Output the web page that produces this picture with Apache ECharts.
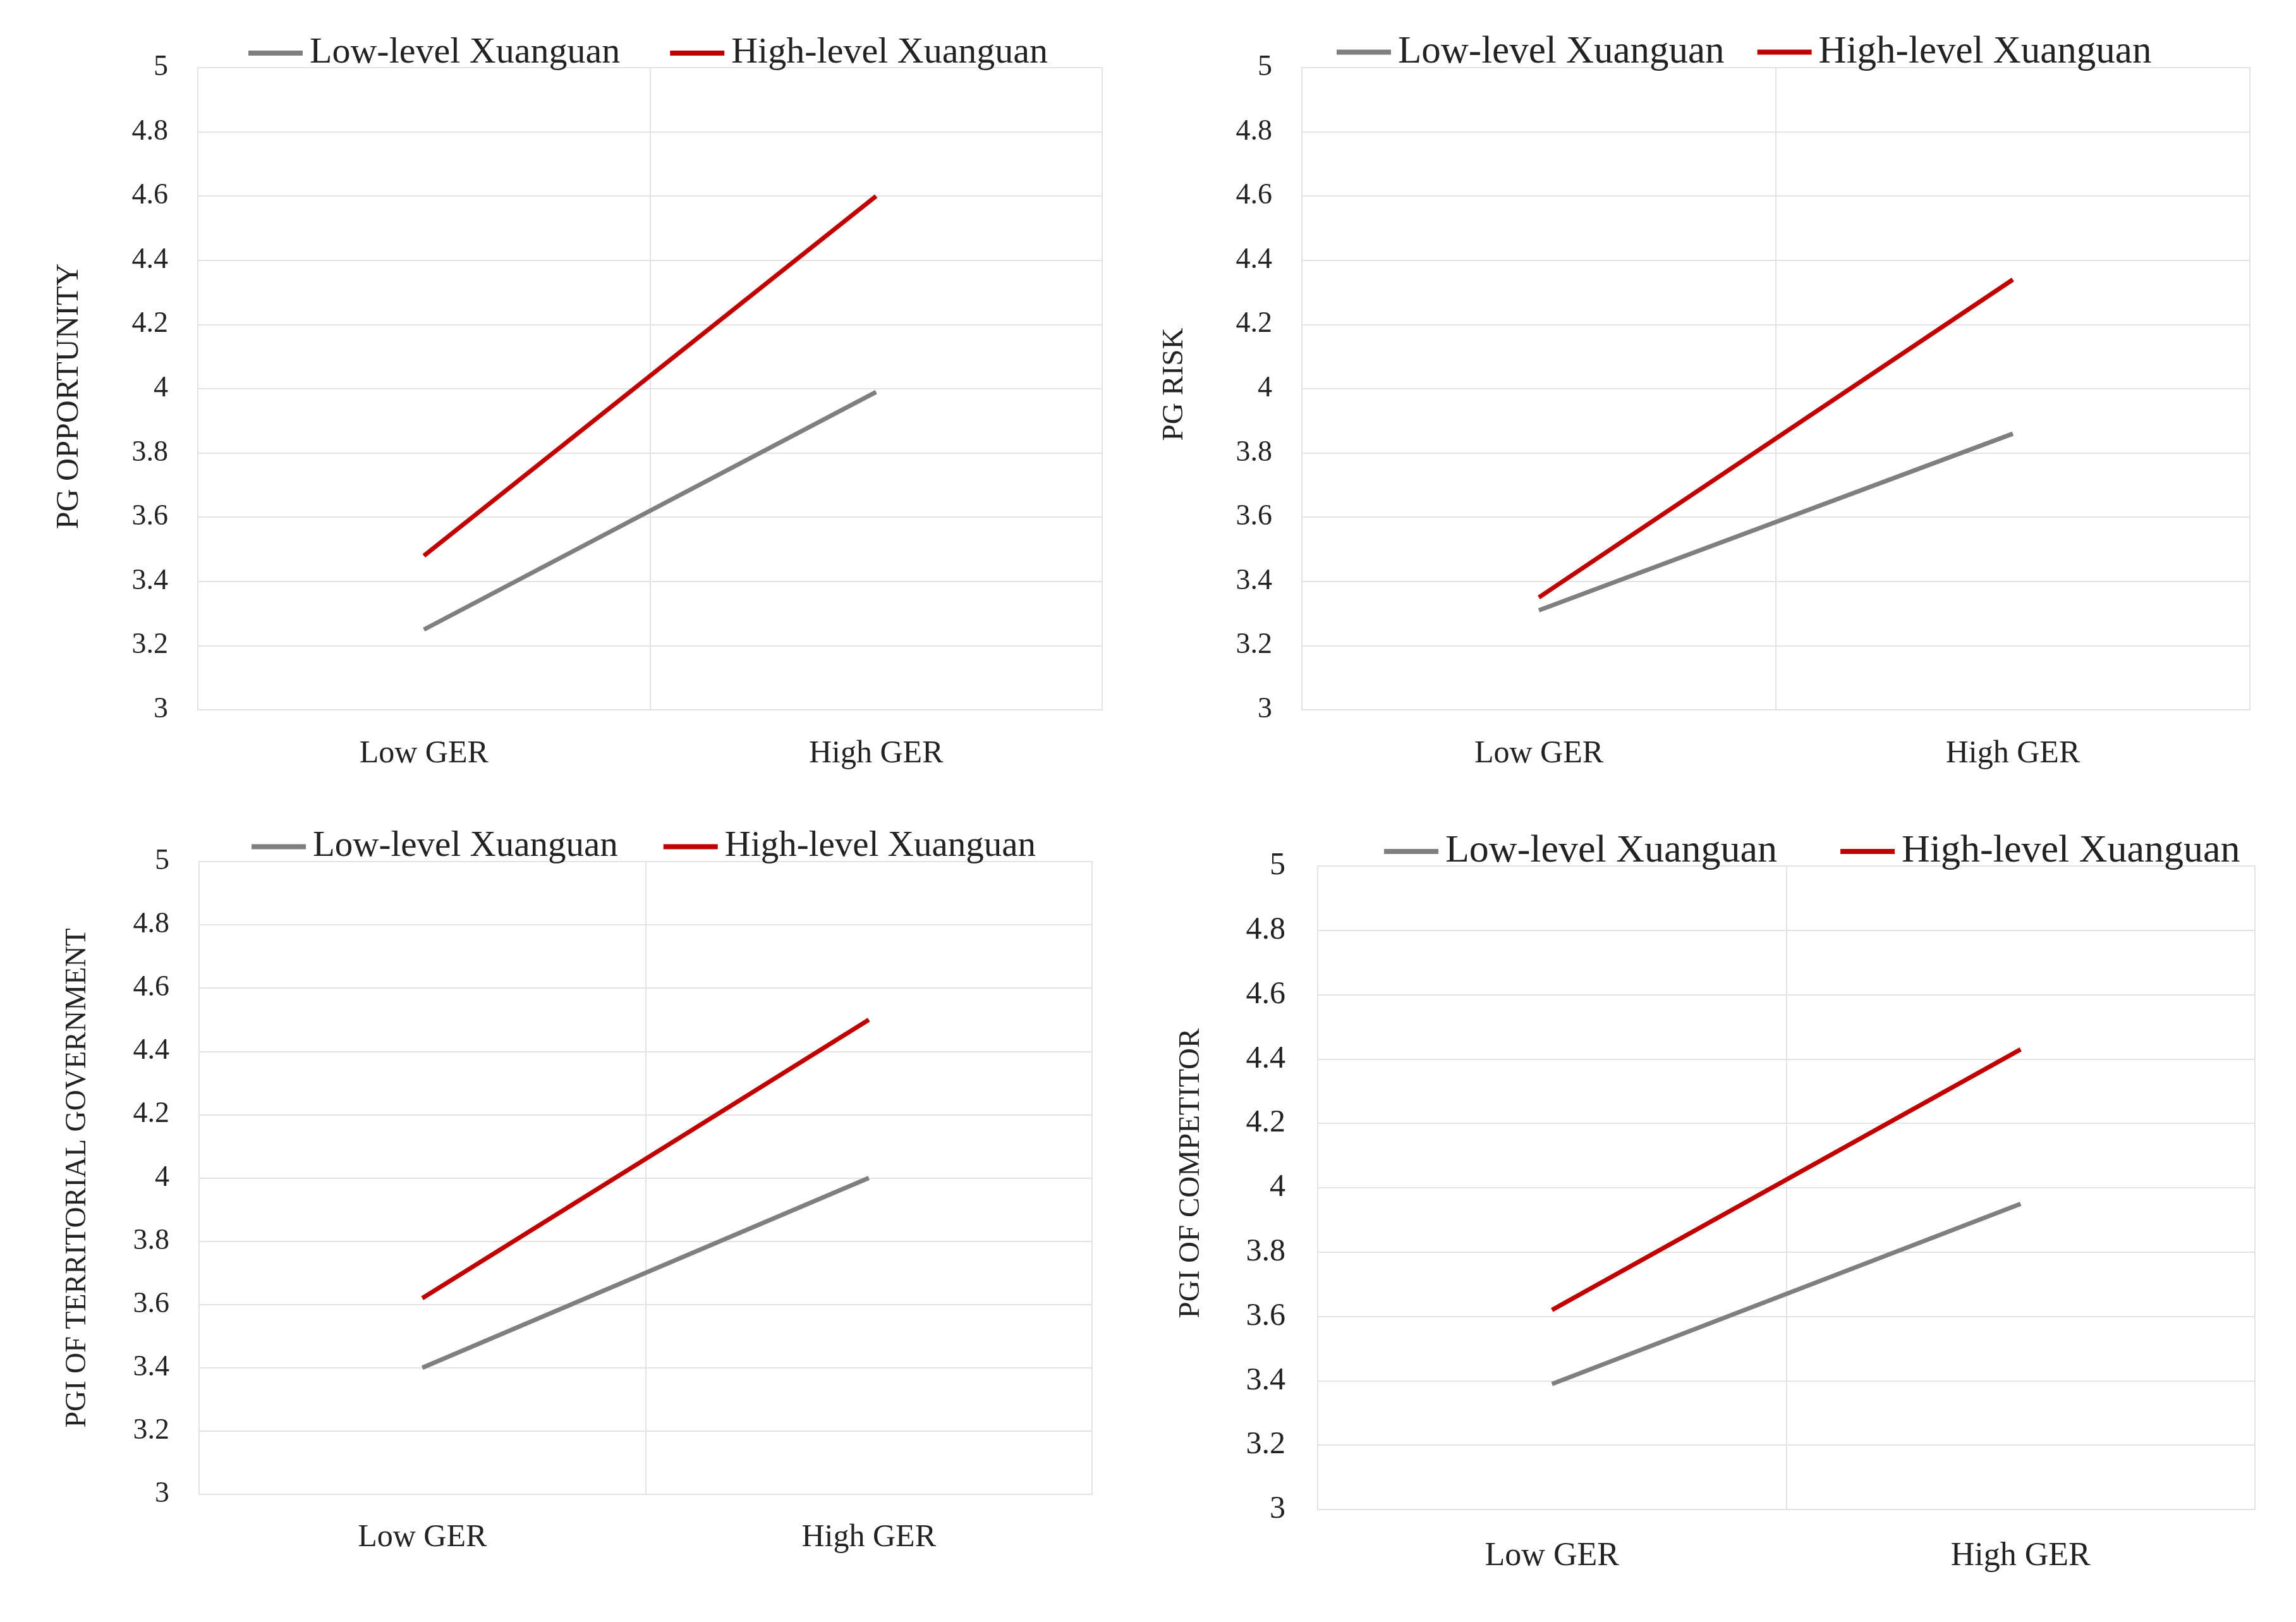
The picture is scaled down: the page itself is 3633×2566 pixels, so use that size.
<!DOCTYPE html>
<html>
<head>
<meta charset="utf-8">
<script src="https://cdn.jsdelivr.net/npm/echarts@6/dist/echarts.min.js"></script>
<style>
html,body{margin:0;padding:0;background:#fff;}
#c{width:3633px;height:2566px;}
</style>
</head>
<body>
<div id="c"></div>
<script>
// ---- data ----
const categories = ['Low GER', 'High GER'];
const seriesNames = ['Low-level Xuanguan', 'High-level Xuanguan'];
const axisTitles = ['PG OPPORTUNITY', 'PG RISK', 'PGI OF TERRITORIAL GOVERNMENT', 'PGI OF COMPETITOR'];
const opportunityLow = [3.25, 3.99];
const opportunityHigh = [3.48, 4.60];
const riskLow = [3.31, 3.86];
const riskHigh = [3.35, 4.34];
const territorialLow = [3.40, 4.00];
const territorialHigh = [3.62, 4.50];
const competitorLow = [3.39, 3.95];
const competitorHigh = [3.62, 4.43];
const yMin = 3, yMax = 5, yStep = 0.2;

const panelsData = [
  [opportunityLow, opportunityHigh],
  [riskLow, riskHigh],
  [territorialLow, territorialHigh],
  [competitorLow, competitorHigh]
];

// ---- layout ----
const FONT = '"Liberation Serif", "Times New Roman", serif';
const grids = [
  {left: 313, top: 107, width: 1431, height: 1016},
  {left: 2060, top: 107, width: 1500, height: 1016},
  {left: 315, top: 1363, width: 1413, height: 1001},
  {left: 2085, top: 1370, width: 1483, height: 1018}
];
const legendPos = [
  {left: 388, top: 50, fs: 58, gap: 79},
  {left: 2110, top: 47, fs: 61, gap: 52},
  {left: 393, top: 1306, fs: 57, gap: 72},
  {left: 2185, top: 1311, fs: 62, gap: 100}
];
const tickFs = [46, 46, 46, 50];
const catFs = [50, 50, 50, 52];
const catMargin = [45, 45, 44, 48];
const nameGaps = [178, 178, 169, 177];
const nameFs = [50, 47, 46, 47];
const namePad = [[0, 24, 0, 0], [0, 0, 0, 14], [0, 0, 0, 0], [0, 0, 0, 46]];
const colors = ['#7f7f7f', '#c00000'];
const gridLine = '#e3e3e3';

const option = {
  backgroundColor: '#ffffff',
  animation: false,
  grid: grids.map(g => Object.assign({show: true, borderColor: gridLine, borderWidth: 2, containLabel: false}, g)),
  legend: legendPos.map((l, i) => ({
    left: l.left, top: l.top,
    orient: 'horizontal',
    data: seriesNames.map(n => ({name: n + '\u200B'.repeat(i)})),
    icon: 'rect',
    itemWidth: 86, itemHeight: 8,
    itemGap: l.gap,
    textStyle: {fontFamily: FONT, fontSize: l.fs, color: '#222', padding: [0, 0, 0, 6]},
    selectedMode: false
  })),
  xAxis: grids.map((g, i) => ({
    type: 'category', gridIndex: i, data: categories, boundaryGap: true,
    axisLine: {show: true, lineStyle: {color: gridLine, width: 2}},
    axisTick: {show: false},
    axisLabel: {fontFamily: FONT, fontSize: catFs[i], color: '#222', margin: catMargin[i]},
    splitLine: {show: true, lineStyle: {color: gridLine, width: 2}}
  })),
  yAxis: grids.map((g, i) => ({
    type: 'value', gridIndex: i, min: yMin, max: yMax, interval: yStep,
    name: axisTitles[i], nameLocation: 'middle', nameRotate: 90, nameGap: nameGaps[i],
    nameTextStyle: {fontFamily: FONT, fontSize: nameFs[i], color: '#222', padding: namePad[i]},
    axisLine: {show: false},
    axisTick: {show: false},
    axisLabel: {fontFamily: FONT, fontSize: tickFs[i], color: '#222', margin: i === 3 ? 51 : 47,
      formatter: v => String(Math.round(v * 10) / 10)},
    splitLine: {show: true, lineStyle: {color: gridLine, width: 2}}
  })),
  series: []
};

panelsData.forEach((pair, i) => {
  pair.forEach((vals, k) => {
    option.series.push({
      type: 'line',
      name: seriesNames[k] + '\u200B'.repeat(i),
      xAxisIndex: i, yAxisIndex: i,
      data: vals,
      showSymbol: false, symbol: 'none',
      lineStyle: {color: colors[k], width: 7},
      itemStyle: {color: colors[k]}
    });
  });
});

const chart = echarts.init(document.getElementById('c'));
chart.setOption(option);
</script>
</body>
</html>
